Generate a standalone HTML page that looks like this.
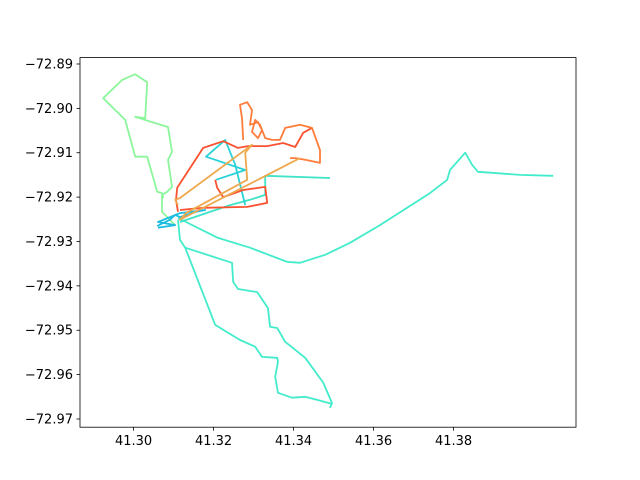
<!DOCTYPE html>
<html><head><meta charset="utf-8"><style>
html,body{margin:0;padding:0;background:#fff;}
svg{display:block;font-family:"DejaVu Sans","Liberation Sans",sans-serif;}
</style></head><body>
<svg id="chart" width="640" height="480" viewBox="0 0 640 480">
<rect x="0" y="0" width="640" height="480" fill="#fff"/>
<g id="plot"></g>
<rect x="80" y="57.6" width="496" height="369.6" fill="none" stroke="#000" stroke-width="0.8"/>
<g id="xaxis"></g>
<g id="yaxis"></g>
</svg>
<script>
const xTicks = [41.30, 41.32, 41.34, 41.36, 41.38];
const xTickLabels = ["41.30", "41.32", "41.34", "41.36", "41.38"];
const yTicks = [-72.89, -72.90, -72.91, -72.92, -72.93, -72.94, -72.95, -72.96, -72.97];
const yTickLabels = ["−72.89", "−72.90", "−72.91", "−72.92", "−72.93", "−72.94", "−72.95", "−72.96", "−72.97"];
const seriesNames = ["green", "red", "orange", "tan", "cyan", "teal-east", "teal-south-a", "teal-south-b", "teal-inner"];
const seriesColors = ["#8cf69c", "#fa5230", "#ff7c3a", "#eea84e", "#1bbde0", "#42eccb", "#42eccb", "#42eccb", "#3fe3c8"];
const greenLat = [41.3074,41.3071,41.3059,41.3034,41.3004,41.2979,41.2924,41.2971,41.3004,41.3034,41.3029,41.3004,41.3046,41.3086,41.3096,41.3086,41.3096,41.3084,41.3071,41.3071,41.3104];
const greenLon = [-72.9202,-72.9191,-72.9188,-72.9109,-72.9109,-72.9026,-72.8977,-72.8936,-72.8923,-72.8941,-72.9022,-72.9019,-72.9031,-72.9042,-72.9098,-72.9116,-72.9177,-72.9188,-72.9195,-72.9233,-72.9263];
const redLat = [41.3111,41.3106,41.3109,41.3174,41.3224,41.3261,41.3286,41.3334,41.3374,41.3404,41.3424,41.3446];
const redLon = [-72.9233,-72.9206,-72.9179,-72.9089,-72.9074,-72.9089,-72.9085,-72.9085,-72.9078,-72.9087,-72.9055,-72.9044];
const red2Lat = [41.3204,41.3209,41.3224,41.3274,41.3329,41.3334,41.3284,41.3174,41.3116];
const red2Lon = [-72.9161,-72.9179,-72.9200,-72.9184,-72.9177,-72.9213,-72.9222,-72.9224,-72.9229];
const orangeLat = [41.3274,41.3271,41.3266,41.3284,41.3296,41.3291,41.3311,41.3321,41.3311,41.3296,41.3304,41.3316,41.3329,41.3346,41.3366,41.3379,41.3416,41.3446,41.3466,41.3466,41.3429,41.3404,41.3391];
const orangeLon = [-72.9071,-72.9022,-72.8992,-72.8986,-72.9004,-72.9037,-72.9031,-72.9049,-72.9067,-72.9053,-72.9026,-72.9037,-72.9067,-72.9071,-72.9071,-72.9044,-72.9037,-72.9044,-72.9094,-72.9123,-72.9116,-72.9112,-72.9112];
const tanLat = [41.3111,41.3104,41.3116,41.3296,41.3279,41.3284,41.3131,41.3116,41.3416];
const tanLon = [-72.9218,-72.9206,-72.9202,-72.9082,-72.9100,-72.9161,-72.9236,-72.9251,-72.9112];
const cyanLat = [41.3059,41.3091,41.3104,41.3116,41.3156,41.3179,41.3116,41.3061,41.3104,41.3061];
const cyanLon = [-72.9265,-72.9251,-72.9240,-72.9245,-72.9233,-72.9229,-72.9236,-72.9256,-72.9263,-72.9269];
const cyan2Lat = [41.3206,41.3279,41.3181,41.3229,41.3254,41.3279];
const cyan2Lon = [-72.9161,-72.9139,-72.9109,-72.9071,-72.9127,-72.9218];
const eastLat = [41.3111,41.3211,41.3291,41.3384,41.3416,41.3479,41.3541,41.3616,41.3741,41.3784,41.3791,41.3829,41.3846,41.3861,41.3966,41.4049];
const eastLon = [-72.9247,-72.9292,-72.9314,-72.9346,-72.9348,-72.9330,-72.9303,-72.9263,-72.9191,-72.9161,-72.9139,-72.9100,-72.9127,-72.9143,-72.9150,-72.9152];
const southALat = [41.3111,41.3116,41.3129,41.3246,41.3249,41.3261,41.3309,41.3336,41.3341,41.3359,41.3379,41.3429,41.3474,41.3496,41.3491];
const southALon = [-72.9251,-72.9296,-72.9314,-72.9348,-72.9391,-72.9407,-72.9414,-72.9450,-72.9492,-72.9495,-72.9526,-72.9562,-72.9618,-72.9664,-72.9675];
const southBLat = [41.3129,41.3204,41.3266,41.3304,41.3321,41.3359,41.3361,41.3354,41.3361,41.3396,41.3429,41.3459,41.3496];
const southBLon = [-72.9314,-72.9488,-72.9522,-72.9537,-72.9560,-72.9562,-72.9571,-72.9605,-72.9641,-72.9652,-72.9650,-72.9657,-72.9666];
const innerLat = [41.3116,41.3241,41.3291,41.3329,41.3329,41.3491];
const innerLon = [-72.9256,-72.9218,-72.9206,-72.9195,-72.9152,-72.9157];

const X0 = 41.2866, X1 = 41.4106, Y0 = -72.97185, Y1 = -72.88856;
const L = 80, R = 576, T = 57.6, B = 427.2;
function xs(v){ return L + (v - X0) / (X1 - X0) * (R - L); }
function ys(v){ return B - (v - Y0) / (Y1 - Y0) * (B - T); }
const NS = "http://www.w3.org/2000/svg";
const plot = document.getElementById("plot");
function drawLine(lat, lon, color, name){
  const p = document.createElementNS(NS, "polyline");
  p.setAttribute("points", lat.map((v,i)=>xs(v).toFixed(1)+","+ys(lon[i]).toFixed(1)).join(" "));
  p.setAttribute("fill", "none");
  p.setAttribute("stroke", color);
  p.setAttribute("stroke-width", "1.8");
  p.setAttribute("stroke-linejoin", "round");
  
  
  plot.appendChild(p);
}
drawLine(greenLat, greenLon, seriesColors[0], "track-green");
drawLine(southALat, southALon, seriesColors[6], "track-teal-south-a");
drawLine(southBLat, southBLon, seriesColors[7], "track-teal-south-b");
drawLine(eastLat, eastLon, seriesColors[5], "track-teal-east");
drawLine(innerLat, innerLon, seriesColors[8], "track-teal-inner");
drawLine(cyanLat, cyanLon, seriesColors[4], "track-cyan");
drawLine(cyan2Lat, cyan2Lon, "#2ad2d8", "track-cyan-box");
drawLine(redLat, redLon, seriesColors[1], "track-red");
drawLine(red2Lat, red2Lon, seriesColors[1], "track-red-lower");
drawLine(orangeLat, orangeLon, seriesColors[2], "track-orange");
drawLine(tanLat, tanLon, seriesColors[3], "track-tan");

const xa = document.getElementById("xaxis");
xTicks.forEach((v,i)=>{
  const x = xs(v);
  const t = document.createElementNS(NS, "line");
  t.setAttribute("x1", x); t.setAttribute("x2", x); t.setAttribute("y1", B); t.setAttribute("y2", B+3.5);
  t.setAttribute("stroke", "#000"); t.setAttribute("stroke-width", "0.8");
  
  
  xa.appendChild(t);
  const tx = document.createElementNS(NS, "text");
  tx.setAttribute("x", x); tx.setAttribute("y", B+18); tx.setAttribute("text-anchor", "middle");
  tx.setAttribute("font-size", "13"); tx.textContent = xTickLabels[i];
  
  
  xa.appendChild(tx);
});
const ya = document.getElementById("yaxis");
yTicks.forEach((v,i)=>{
  const y = ys(v);
  const t = document.createElementNS(NS, "line");
  t.setAttribute("x1", L-3.5); t.setAttribute("x2", L); t.setAttribute("y1", y); t.setAttribute("y2", y);
  t.setAttribute("stroke", "#000"); t.setAttribute("stroke-width", "0.8");
  
  
  ya.appendChild(t);
  const tx = document.createElementNS(NS, "text");
  tx.setAttribute("x", L-7); tx.setAttribute("y", y+4.5); tx.setAttribute("text-anchor", "end");
  tx.setAttribute("font-size", "13"); tx.textContent = yTickLabels[i];
  
  
  ya.appendChild(tx);
});
</script>
</body></html>
